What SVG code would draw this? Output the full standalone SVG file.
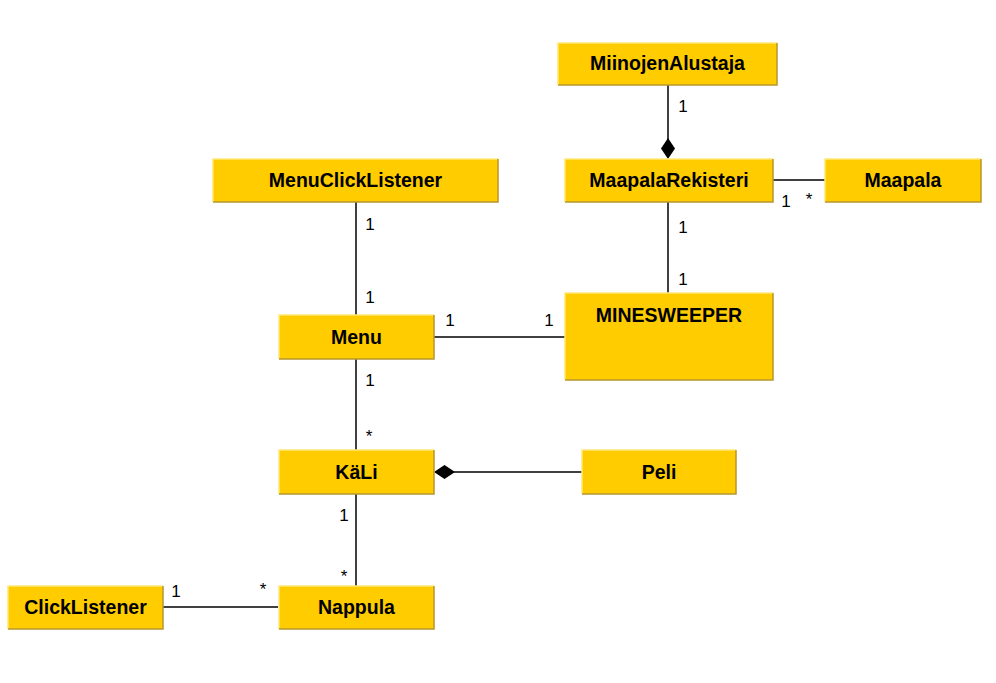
<svg xmlns="http://www.w3.org/2000/svg" width="996" height="683" viewBox="0 0 996 683">
<defs>
<style>
.box{fill:#FFCC00}
.hl{fill:none;stroke:#FFE877;stroke-width:1.5}
.sh{fill:none;stroke:#B8962E;stroke-width:1.5}
.name{font-family:"Liberation Sans",Arial,sans-serif;font-weight:bold;font-size:19.5px;text-anchor:middle;fill:#000}
.lbl{font-family:"Liberation Sans",Arial,sans-serif;font-size:17px;text-anchor:middle;fill:#000}
.ln{stroke:#000;stroke-width:1.5;fill:none}
.dia{fill:#000}
</style>
</defs>
<rect width="996" height="683" fill="#fff"/>
<g id="connectors">
<line class="ln" x1="668" y1="85" x2="668" y2="140"/>
<polygon class="dia" points="668,138 675,148.5 668,159 661,148.5"/>
<line class="ln" x1="773" y1="180" x2="825" y2="180"/>
<line class="ln" x1="668" y1="202" x2="668" y2="293"/>
<line class="ln" x1="356" y1="202" x2="356" y2="315"/>
<line class="ln" x1="434" y1="337" x2="565" y2="337"/>
<line class="ln" x1="356" y1="359" x2="356" y2="450"/>
<line class="ln" x1="454" y1="472" x2="582" y2="472"/>
<polygon class="dia" points="434,472 444.5,465 455,472 444.5,479"/>
<line class="ln" x1="356" y1="494" x2="356" y2="586"/>
<line class="ln" x1="163" y1="607" x2="278" y2="607"/>
<text class="lbl" x="683" y="112">1</text>
<text class="lbl" x="786" y="207">1</text>
<text class="lbl" x="809" y="205">*</text>
<text class="lbl" x="683" y="233">1</text>
<text class="lbl" x="683" y="285">1</text>
<text class="lbl" x="370" y="230">1</text>
<text class="lbl" x="370" y="303">1</text>
<text class="lbl" x="450" y="326">1</text>
<text class="lbl" x="549" y="326">1</text>
<text class="lbl" x="370" y="386">1</text>
<text class="lbl" x="369" y="442">*</text>
<text class="lbl" x="344" y="521">1</text>
<text class="lbl" x="344" y="582">*</text>
<text class="lbl" x="176" y="597">1</text>
<text class="lbl" x="263" y="595">*</text>
</g>
<g id="MiinojenAlustaja">
<rect class="box" x="558" y="43" width="219" height="42"/>
<polyline class="hl" points="558,85 558,43 777,43"/>
<polyline class="sh" points="777,43 777,85 558,85"/>
<text class="name" x="667.5" y="70">MiinojenAlustaja</text>
</g>
<g id="MenuClickListener">
<rect class="box" x="213" y="159" width="285" height="43"/>
<polyline class="hl" points="213,202 213,159 498,159"/>
<polyline class="sh" points="498,159 498,202 213,202"/>
<text class="name" x="355.5" y="187">MenuClickListener</text>
</g>
<g id="MaapalaRekisteri">
<rect class="box" x="565" y="159" width="208" height="43"/>
<polyline class="hl" points="565,202 565,159 773,159"/>
<polyline class="sh" points="773,159 773,202 565,202"/>
<text class="name" x="669" y="187">MaapalaRekisteri</text>
</g>
<g id="Maapala">
<rect class="box" x="825" y="159" width="156" height="43"/>
<polyline class="hl" points="825,202 825,159 981,159"/>
<polyline class="sh" points="981,159 981,202 825,202"/>
<text class="name" x="903" y="187">Maapala</text>
</g>
<g id="Menu">
<rect class="box" x="279" y="315" width="155" height="44"/>
<polyline class="hl" points="279,359 279,315 434,315"/>
<polyline class="sh" points="434,315 434,359 279,359"/>
<text class="name" x="356.5" y="344">Menu</text>
</g>
<g id="MINESWEEPER">
<rect class="box" x="565" y="293" width="208" height="87"/>
<polyline class="hl" points="565,380 565,293 773,293"/>
<polyline class="sh" points="773,293 773,380 565,380"/>
<text class="name" x="669" y="322">MINESWEEPER</text>
</g>
<g id="KaLi">
<rect class="box" x="279" y="450" width="155" height="44"/>
<polyline class="hl" points="279,494 279,450 434,450"/>
<polyline class="sh" points="434,450 434,494 279,494"/>
<text class="name" x="356.5" y="479">KäLi</text>
</g>
<g id="Peli">
<rect class="box" x="582" y="450" width="154" height="44"/>
<polyline class="hl" points="582,494 582,450 736,450"/>
<polyline class="sh" points="736,450 736,494 582,494"/>
<text class="name" x="659" y="479">Peli</text>
</g>
<g id="ClickListener">
<rect class="box" x="8" y="586" width="155" height="43"/>
<polyline class="hl" points="8,629 8,586 163,586"/>
<polyline class="sh" points="163,586 163,629 8,629"/>
<text class="name" x="85.5" y="614">ClickListener</text>
</g>
<g id="Nappula">
<rect class="box" x="279" y="586" width="155" height="43"/>
<polyline class="hl" points="279,629 279,586 434,586"/>
<polyline class="sh" points="434,586 434,629 279,629"/>
<text class="name" x="356.5" y="614">Nappula</text>
</g>
</svg>
